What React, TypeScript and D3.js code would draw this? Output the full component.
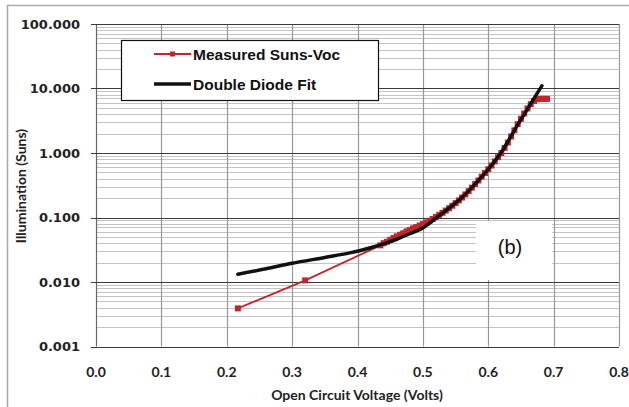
import React, { useEffect, useRef } from 'react';
import * as d3 from 'd3';

// Measured Suns-Voc (volts, suns)
const measuredVoc = [
  0.217, 0.32, 0.435, 0.44, 0.445, 0.45, 0.455, 0.46, 0.465, 0.47, 0.475, 0.48, 0.485, 0.49,
  0.495, 0.5, 0.505, 0.51, 0.515, 0.52, 0.525, 0.53, 0.535, 0.54, 0.545, 0.55, 0.555, 0.56,
  0.565, 0.57, 0.575, 0.58, 0.585, 0.59, 0.595, 0.6, 0.605, 0.61, 0.615, 0.62, 0.625, 0.63,
  0.635, 0.64, 0.645, 0.65, 0.655, 0.66, 0.665, 0.67, 0.675, 0.68, 0.685, 0.69,
];
const measuredSuns = [
  0.0039, 0.0106, 0.037, 0.04, 0.042, 0.045, 0.048, 0.051, 0.054, 0.057, 0.061, 0.064, 0.068,
  0.071, 0.075, 0.079, 0.084, 0.089, 0.095, 0.102, 0.11, 0.118, 0.128, 0.139, 0.152, 0.167,
  0.184, 0.204, 0.228, 0.256, 0.29, 0.33, 0.375, 0.43, 0.49, 0.56, 0.64, 0.74, 0.86, 1.0, 1.2,
  1.45, 1.8, 2.25, 2.8, 3.4, 4.1, 4.9, 5.7, 6.4, 6.8, 6.9, 6.9, 6.9,
];

// Double diode fit (volts, suns)
const fitVoc = [
  0.217, 0.26, 0.3, 0.35, 0.39, 0.42, 0.44, 0.46, 0.48, 0.5, 0.52, 0.54, 0.56, 0.58, 0.6,
  0.62, 0.63, 0.64, 0.65, 0.66, 0.67, 0.682,
];
const fitSuns = [
  0.0132, 0.016, 0.0195, 0.024, 0.0285, 0.034, 0.039, 0.046, 0.056, 0.069, 0.098, 0.14,
  0.205, 0.33, 0.56, 1.03, 1.5, 2.25, 3.3, 4.8, 7.0, 11,
];

const xTicks = [0, 0.1, 0.2, 0.3, 0.4, 0.5, 0.6, 0.7, 0.8];
const yTicks = [0.001, 0.01, 0.1, 1, 10, 100];

const legendNames = ['Measured Suns-Voc', 'Double Diode Fit'];

const RED = '#c0262c';

export default function App() {
  const node = useRef<SVGSVGElement>(null);

  useEffect(() => {
    const svg = d3.select(node.current);
    svg.selectAll('*').remove();

    const x = d3.scaleLinear().domain([0, 0.8]).range([96, 619]);
    const y = d3.scaleLog().domain([0.001, 100]).range([346.5, 24]);

    svg
      .append('rect')
      .attr('x', 0)
      .attr('y', 0)
      .attr('width', 629)
      .attr('height', 407)
      .attr('fill', 'white');

    // outer frame
    svg
      .append('rect')
      .attr('x', 7.5)
      .attr('y', 5.5)
      .attr('width', 640)
      .attr('height', 420)
      .attr('fill', 'none')
      .attr('stroke', '#aaa')
      .attr('stroke-width', 1.5);

    // minor horizontal grid
    const minor: number[] = [];
    yTicks.slice(0, -1).forEach(d => {
      for (let k = 2; k <= 9; k++) minor.push(d * k);
    });
    svg
      .append('g')
      .selectAll('line')
      .data(minor)
      .enter()
      .append('line')
      .attr('x1', x(0))
      .attr('x2', x(0.8))
      .attr('y1', d => Math.round(y(d)) + 0.5)
      .attr('y2', d => Math.round(y(d)) + 0.5)
      .attr('stroke', '#c4c4c4')
      .attr('stroke-width', 1);

    // vertical grid
    svg
      .append('g')
      .selectAll('line')
      .data(xTicks)
      .enter()
      .append('line')
      .attr('x1', d => Math.round(x(d)) + 0.5)
      .attr('x2', d => Math.round(x(d)) + 0.5)
      .attr('y1', y(100))
      .attr('y2', y(0.001))
      .attr('stroke', d => (d === 0 ? '#666' : '#999'))
      .attr('stroke-width', 1.2);

    // major horizontal grid
    svg
      .append('g')
      .selectAll('line')
      .data(yTicks)
      .enter()
      .append('line')
      .attr('x1', x(0) - 5)
      .attr('x2', x(0.8))
      .attr('y1', d => Math.round(y(d)) + 0.5)
      .attr('y2', d => Math.round(y(d)) + 0.5)
      .attr('stroke', '#3a3a3a')
      .attr('stroke-width', 1.2);

    // y tick labels
    svg
      .append('g')
      .selectAll('text')
      .data(yTicks)
      .enter()
      .append('text')
      .attr('x', 80)
      .attr('y', d => y(d))
      .attr('dy', '0.36em')
      .attr('text-anchor', 'end')
      .attr('font-family', 'DejaVu Sans')
      .attr('font-weight', 'bold')
      .attr('font-size', 13)
      .attr('fill', '#222')
      .text(d => d3.format('.3f')(d));

    // x tick labels
    svg
      .append('g')
      .selectAll('text')
      .data(xTicks)
      .enter()
      .append('text')
      .attr('x', d => x(d))
      .attr('y', 372)
      .attr('dy', '0.36em')
      .attr('text-anchor', 'middle')
      .attr('font-family', 'Lato')
      .attr('font-weight', 'bold')
      .attr('font-size', 14)
      .attr('fill', '#222')
      .text(d => d3.format('.1f')(d));

    svg
      .append('text')
      .attr('x', 357)
      .attr('y', 395)
      .attr('dy', '0.36em')
      .attr('text-anchor', 'middle')
      .attr('font-family', 'Lato')
      .attr('font-weight', 'bold')
      .attr('font-size', 14)
      .attr('fill', '#222')
      .text('Open Circuit Voltage (Volts)');

    svg
      .append('text')
      .attr('transform', 'translate(21,186) rotate(-90)')
      .attr('dy', '0.36em')
      .attr('text-anchor', 'middle')
      .attr('font-family', 'Lato')
      .attr('font-weight', 'bold')
      .attr('font-size', 14)
      .attr('fill', '#222')
      .text('Illumination (Suns)');

    // series
    const line = d3
      .line<[number, number]>()
      .x(d => x(d[0]))
      .y(d => y(d[1]));

    const measured: [number, number][] = measuredVoc.map((v, i) => [v, measuredSuns[i]]);
    const fit: [number, number][] = fitVoc.map((v, i) => [v, fitSuns[i]]);

    svg
      .append('path')
      .datum(measured)
      .attr('d', line)
      .attr('fill', 'none')
      .attr('stroke', RED)
      .attr('stroke-width', 1.8);

    svg
      .append('g')
      .selectAll('rect')
      .data(measured)
      .enter()
      .append('rect')
      .attr('x', d => x(d[0]) - 3)
      .attr('y', d => y(d[1]) - 3)
      .attr('width', 6)
      .attr('height', 6)
      .attr('fill', RED);

    svg
      .append('path')
      .datum(fit)
      .attr('d', line.curve(d3.curveCatmullRom))
      .attr('fill', 'none')
      .attr('stroke', '#111')
      .attr('stroke-width', 3.5)
      .attr('stroke-linecap', 'round');

    // legend
    const legend = svg.append('g');
    legend
      .append('rect')
      .attr('x', 121.5)
      .attr('y', 40.5)
      .attr('width', 257)
      .attr('height', 60)
      .attr('fill', 'white')
      .attr('stroke', '#111')
      .attr('stroke-width', 1.2);
    legendNames.forEach((name, i) => {
      const ly = 54 + i * 30;
      legend
        .append('line')
        .attr('x1', 154)
        .attr('x2', 191)
        .attr('y1', ly)
        .attr('y2', ly)
        .attr('stroke', i === 0 ? RED : '#111')
        .attr('stroke-width', i === 0 ? 1.8 : 3.5);
      if (i === 0) {
        legend
          .append('rect')
          .attr('x', 170)
          .attr('y', ly - 2.5)
          .attr('width', 5)
          .attr('height', 5)
          .attr('fill', RED);
      }
      legend
        .append('text')
        .attr('x', 193)
        .attr('y', ly)
        .attr('dy', '0.36em')
        .attr('font-family', 'Liberation Sans, Arial')
        .attr('font-weight', 'bold')
        .attr('font-size', 15.5)
        .attr('fill', '#111')
        .text(name);
    });

    // panel label
    svg
      .append('rect')
      .attr('x', 476)
      .attr('y', 221)
      .attr('width', 76)
      .attr('height', 59)
      .attr('fill', 'white');
    svg
      .append('text')
      .attr('x', 510)
      .attr('y', 247)
      .attr('dy', '0.36em')
      .attr('text-anchor', 'middle')
      .attr('font-family', 'Liberation Sans, Arial')
      .attr('font-size', 20)
      .attr('fill', '#111')
      .text('(b)');
  }, []);

  return (
    <svg
      ref={node}
      width={629}
      height={407}
      style={{ position: 'absolute', left: 0, top: 0 }}
    />
  );
}
